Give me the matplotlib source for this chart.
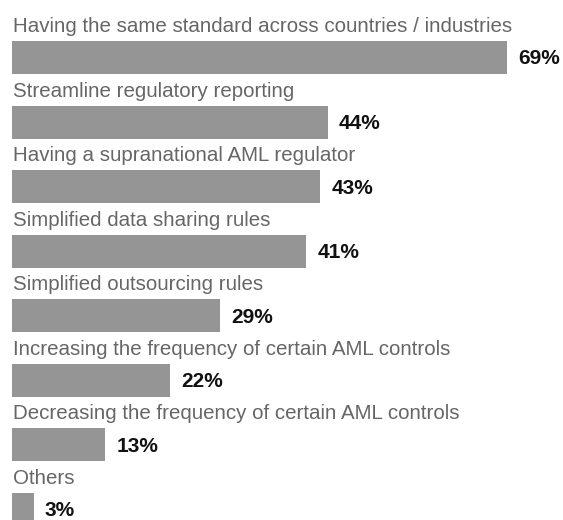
import matplotlib
matplotlib.use("Agg")
import matplotlib.pyplot as plt

categories = [
    "Having the same standard across countries / industries",
    "Streamline regulatory reporting",
    "Having a supranational AML regulator",
    "Simplified data sharing rules",
    "Simplified outsourcing rules",
    "Increasing the frequency of certain AML controls",
    "Decreasing the frequency of certain AML controls",
    "Others",
]
values = [69, 44, 43, 41, 29, 22, 13, 3]
value_labels = [f"{v}%" for v in values]

plt.rcParams["font.family"] = ["Liberation Sans", "DejaVu Sans"]

W, H, DPI = 563, 520, 100
fig = plt.figure(figsize=(W / DPI, H / DPI), dpi=DPI)
ax = fig.add_axes([0, 0, 1, 1])

# layout in pixels: bars start at x=12, 69% reaches x=507; row pitch ~64.6 px
px_per_unit = (507 - 12) / 69
pitch = 64.57
first_center = 57.5
bar_h_px = 33

ax.set_xlim(-12 / px_per_unit, (W - 12) / px_per_unit)
ax.set_ylim((H - first_center) / pitch, -first_center / pitch)
ax.axis("off")

ypos = list(range(len(categories)))
ax.barh(ypos, values, height=bar_h_px / pitch, left=0, color="#959595", edgecolor="none")

label_off = (bar_h_px / 2 + 9) / pitch
for y, cat, v, lab in zip(ypos, categories, values, value_labels):
    ax.text(0.1, y - label_off, cat, ha="left", va="baseline",
            fontsize=14.8, color="#666666")
    ax.annotate(lab, xy=(v, y), xytext=(8, -1), textcoords="offset points",
                ha="left", va="center", fontsize=15, fontweight="bold",
                color="#111111")

fig.savefig("out.png", dpi=DPI)
